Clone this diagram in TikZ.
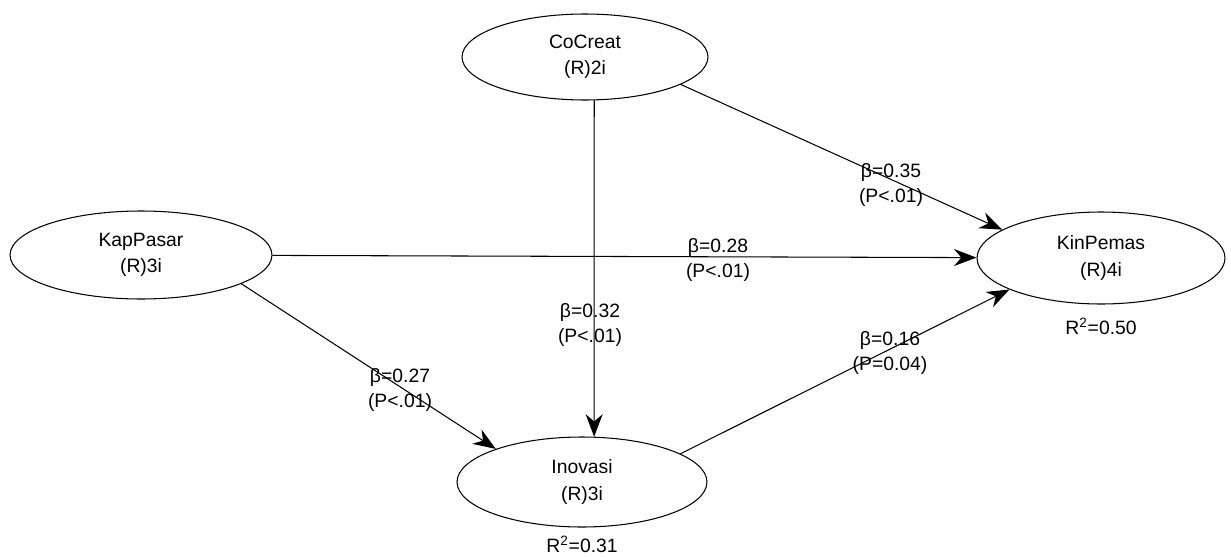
\documentclass[tikz,border=0pt]{standalone}
\usepackage{fontspec}
\setmainfont{Liberation Sans}
\tikzstyle{construct}=[ellipse,draw,line width=0.6pt,align=center,
font=\fontsize{11}{15}\selectfont]
\tikzstyle{coef}=[align=center,font=\fontsize{11}{14}\selectfont,inner sep=1pt]
\tikzstyle{rsq}=[font=\fontsize{11}{13}\selectfont]
\tikzstyle{effect}=[-{Stealth[length=4.5mm,width=3.4mm]},line width=0.6pt]
\usetikzlibrary{shapes,arrows.meta,positioning}

\begin{document}
\begin{tikzpicture}[x=0.02cm,y=-0.02cm]
            \useasboundingbox (0,0) rectangle (1231,558);

            % CONSTRUCTS

            \node[construct,minimum width=4.92cm,minimum height=1.72cm] (cocreat) at (585,57) {CoCreat\\(R)2i};
            \node[construct,minimum width=5.24cm,minimum height=1.76cm] (kappasar) at (141,255) {KapPasar\\(R)3i};
            \node[construct,minimum width=4.96cm,minimum height=1.84cm] (kinpemas) at (1101,258) {KinPemas\\(R)4i};
            \node[construct,minimum width=5.00cm,minimum height=1.80cm] (inovasi) at (582,482) {Inovasi\\(R)3i};

            \node[rsq,below=0.15cm of kinpemas] (r2kin) {R\textsuperscript{2}=0.50};
            \node[rsq,below=0.05cm of inovasi] (r2ino) {R\textsuperscript{2}=0.31};

            % PATHS

            \path[effect] (cocreat.-16) edge (kinpemas.164);
            \path[effect] (kappasar) edge (kinpemas);
            \path[effect] (cocreat.-78) edge (inovasi.75);
            \path[effect] (kappasar.-16) edge (inovasi.159);
            \path[effect] (inovasi.16) edge (kinpemas.199);

            % COEFFICIENTS

            \node[coef] (b1) at (891,185) {β=0.35\\(P<.01)};
            \node[coef] (b2) at (718,260) {β=0.28\\(P<.01)};
            \node[coef] (b3) at (590,325) {β=0.32\\(P<.01)};
            \node[coef] (b4) at (400,390) {β=0.27\\(P<.01)};
            \node[coef] (b5) at (890,353) {β=0.16\\(P=0.04)};

\end{tikzpicture}
\end{document}
